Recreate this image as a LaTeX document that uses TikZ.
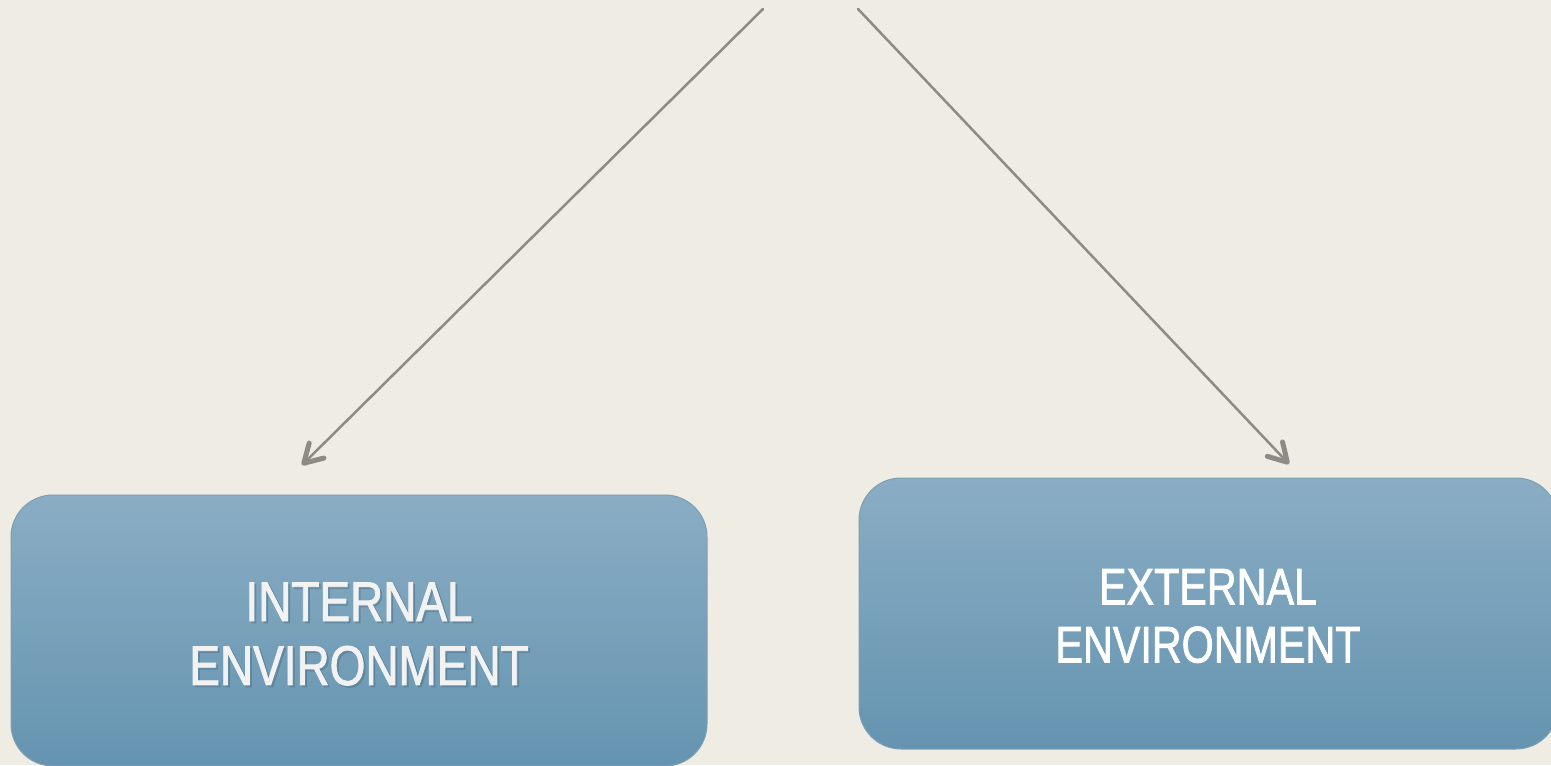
\documentclass[tikz,border=0pt]{standalone}
\usepackage{fontspec}
\usetikzlibrary{arrows.meta,shadings}
\newfontfamily\boxfontA[FakeStretch=0.82,FakeBold=1.5]{Liberation Sans}
\newfontfamily\boxfontB[FakeStretch=0.80,FakeBold=1.5]{Liberation Sans}
\definecolor{bg}{HTML}{EFECE4}
\definecolor{arrowgrey}{HTML}{8C8C84}
\definecolor{boxtop}{HTML}{8AADC4}
\definecolor{boxbot}{HTML}{6594B0}
\definecolor{boxedge}{HTML}{7D9FB6}
\definecolor{txtshadow}{HTML}{4A6A80}
\tikzset{
  arr/.style={draw=arrowgrey, line width=1.25pt, line cap=round,
    -{Straight Barb[length=9pt,width=10.5pt,line width=2.5pt,round]}},
  envbox/.style={draw=boxedge, line width=0.5pt, rounded corners=21pt,
    inner sep=0pt, shade, top color=boxtop, bottom color=boxbot,
    minimum height=135.5pt},
  envtext/.style={inner sep=0pt, align=center, text=white},
}
\begin{document}
\begin{tikzpicture}[x=0.5pt,y=-0.5pt]
\useasboundingbox (0,0) rectangle (1551,765);
\fill[bg] (0,0) rectangle (1551,765);
% boxes
\node[envbox, minimum width=348pt] (ibox) at (359,630.5) {};
\node[envbox, minimum width=349.5pt] (ebox) at (1208.5,613.5) {};
% texts
\node[envtext, text=txtshadow, opacity=0.35, font={\boxfontA\fontsize{28pt}{32pt}\selectfont}] (ishadow) at (361,636) {INTERNAL\\ENVIRONMENT};
\node[envtext, text=white!95!black, font={\boxfontA\fontsize{28pt}{32pt}\selectfont}] (itext) at (359,634) {INTERNAL\\ENVIRONMENT};
\node[envtext, font={\boxfontB\fontsize{25.8pt}{29pt}\selectfont}] (etext) at (1208,616) {EXTERNAL\\ENVIRONMENT};
% arrows
\coordinate (s1) at (763,9);
\coordinate (e1) at (302,465);
\coordinate (s2) at (858,9);
\coordinate (e2) at (1289,464);
\draw[arr] (s1) -- (e1);
\draw[arr] (s2) -- (e2);
\end{tikzpicture}
\end{document}
